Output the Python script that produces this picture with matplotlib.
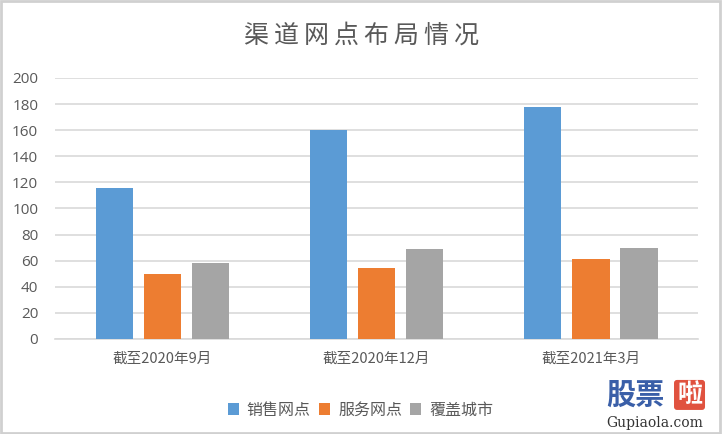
import matplotlib.pyplot as plt
import numpy as np
from matplotlib.patches import Rectangle

plt.rcParams['font.family'] = ['Noto Sans CJK SC', 'DejaVu Sans']

categories = ['截至2020年9月', '截至2020年12月', '截至2021年3月']
series_names = ['销售网点', '服务网点', '覆盖城市']
sales = [116, 160, 178]
service = [50, 54, 61]
cities = [58, 69, 70]
colors = ['#5b9bd5', '#ed7d31', '#a5a5a5']
yticks = [0, 20, 40, 60, 80, 100, 120, 140, 160, 180, 200]


def main():
    fig = plt.figure(figsize=(7.22, 4.34), dpi=100, facecolor='white')
    ax = fig.add_axes([0.076, 0.219, 0.891, 0.6015])

    x = np.arange(len(categories))
    width = 0.173
    step = 0.224
    for i, (vals, name) in enumerate(zip([sales, service, cities], series_names)):
        ax.bar(x + (i - 1) * step, vals, width, color=colors[i], label=name, zorder=3)

    ax.set_xlim(-0.5, 2.5)
    ax.set_ylim(0, 200)
    ax.set_yticks(yticks)
    ax.set_xticks(x)
    ax.set_xticklabels(categories, fontsize=10.5, color='#595959')
    ax.tick_params(axis='y', labelsize=11, colors='#595959', length=0, pad=12)
    ax.tick_params(axis='x', length=0, pad=9)
    for lab in ax.get_yticklabels():
        lab.set_family(['Open Sans', 'DejaVu Sans'])
    ax.grid(axis='y', color='#d9d9d9', linewidth=1.2, zorder=0)
    for s in ['top', 'right', 'left']:
        ax.spines[s].set_visible(False)
    ax.spines['bottom'].set_color('#d9d9d9')
    ax.spines['bottom'].set_linewidth(1.2)

    # title with wide letter spacing
    fig.text(0.5, 0.917, '\u2009'.join('渠道网点布局情况'), ha='center', va='center',
             fontsize=18, color='#595959', family=['Noto Sans CJK SC', 'DejaVu Sans'])

    ax.legend(loc='upper center', bbox_to_anchor=(0.475, -0.185), ncol=3, frameon=False,
              fontsize=11.5, labelcolor='#595959', handlelength=0.7, handleheight=0.7,
              handletextpad=0.5, columnspacing=0.5)

    # outer frame
    fig.patches.append(Rectangle((0.002, 0.003), 0.995, 0.994, transform=fig.transFigure,
                                 fill=False, edgecolor='#d0d0d0', linewidth=2))

    # watermark
    fig.text(0.88, 0.09, '股票', fontsize=21, color='#3a5fa8', weight='bold',
             ha='center', va='center')
    fig.text(0.955, 0.09, '啦', fontsize=18, color='white', weight='bold',
             ha='center', va='center',
             bbox=dict(boxstyle='round,pad=0.12', facecolor='#e0523f', edgecolor='none'))
    fig.text(0.907, 0.025, 'Gupiaola.com', fontsize=10, color='#333333',
             family='DejaVu Serif', ha='center', va='center')

    fig.savefig('out.png', dpi=100, facecolor='white')


if __name__ == '__main__':
    main()
